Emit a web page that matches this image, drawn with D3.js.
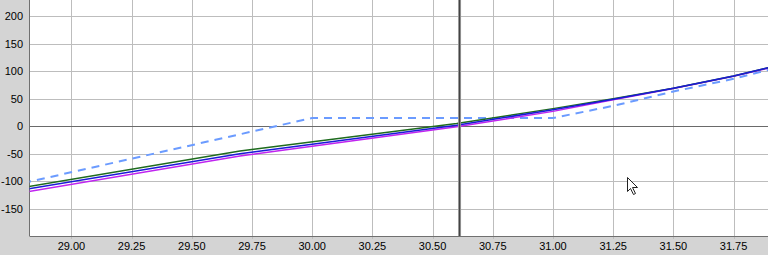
<!DOCTYPE html>
<html>
<head>
<meta charset="utf-8">
<script src="https://cdn.jsdelivr.net/npm/d3@7"></script>
<style>
  html, body { margin: 0; padding: 0; background: #d4d4d4; }
  svg { display: block; }
  .tick-label { font-family: "Liberation Sans", Arial, sans-serif; font-size: 11px; fill: #000; }
</style>
</head>
<body>
<svg id="chart" width="768" height="255"></svg>
<script>
// data
const xTicks = [29.00, 29.25, 29.50, 29.75, 30.00, 30.25, 30.50, 30.75, 31.00, 31.25, 31.50, 31.75];
const yTicks = [-150, -100, -50, 0, 50, 100, 150, 200];

const greenPts = [[28.8, -111], [29.7, -45], [30.6, 5], [31.0, 32], [31.25, 50], [31.5, 69], [31.75, 91], [31.9, 107]];
const bluePts = [[28.8, -115], [29.7, -50], [30.6, 2], [31.0, 30], [31.25, 49], [31.5, 69], [31.75, 91], [31.9, 107]];
const magentaPts = [[28.8, -120], [29.7, -54], [30.6, -1], [31.0, 27], [31.25, 48], [31.5, 68.5], [31.75, 90.5], [31.9, 106]];
const dashedPts = [[28.8, -103], [30.0, 15], [31.0, 15], [31.25, 37], [31.5, 63], [31.75, 86], [31.9, 103]];
const markerX = 30.612;

const W = 768, H = 255;
const left = 29.5, bottom = 236;

const svg = d3.select("#chart");

const x = d3.scaleLinear().domain([28.826, 31.893]).range([left, W]);
const y = d3.scaleLinear().domain([-199, 229]).range([bottom, 0]);

// plot background
svg.append("rect")
  .attr("x", left).attr("y", 0)
  .attr("width", W - left).attr("height", bottom)
  .attr("fill", "#fff");

// grid
const grid = svg.append("g").attr("stroke", "#bdbdbd").attr("stroke-width", 1);
grid.selectAll(".gx").data(xTicks).enter().append("line")
  .attr("x1", d => Math.round(x(d)) + 0.5).attr("x2", d => Math.round(x(d)) + 0.5)
  .attr("y1", 0).attr("y2", bottom + 3);
grid.selectAll(".gy").data(yTicks.filter(d => d !== 0)).enter().append("line")
  .attr("x1", left).attr("x2", W)
  .attr("y1", d => Math.round(y(d)) + 0.5).attr("y2", d => Math.round(y(d)) + 0.5);

// zero line
svg.append("line")
  .attr("x1", left).attr("x2", W)
  .attr("y1", Math.round(y(0)) + 0.5).attr("y2", Math.round(y(0)) + 0.5)
  .attr("stroke", "#6a6a6a").attr("stroke-width", 1);

// axes lines
svg.append("line")
  .attr("x1", left).attr("x2", left).attr("y1", 0).attr("y2", bottom)
  .attr("stroke", "#707070");
svg.append("line")
  .attr("x1", left).attr("x2", W).attr("y1", bottom + 0.5).attr("y2", bottom + 0.5)
  .attr("stroke", "#707070");

// labels
svg.append("g").selectAll("text").data(yTicks).enter().append("text")
  .attr("class", "tick-label")
  .attr("x", 23).attr("y", d => y(d) + 4)
  .attr("text-anchor", "end")
  .text(d => d);

svg.append("g").selectAll("text").data(xTicks).enter().append("text")
  .attr("class", "tick-label")
  .attr("x", d => x(d)).attr("y", 250)
  .attr("text-anchor", "middle")
  .text(d3.format(".2f"));

// series
svg.append("clipPath").attr("id", "plot")
  .append("rect").attr("x", left).attr("y", 0).attr("width", W - left).attr("height", bottom);

const line = d3.line().x(d => x(d[0])).y(d => y(d[1]));
const plot = svg.append("g").attr("clip-path", "url(#plot)");

plot.append("path").datum(dashedPts)
  .attr("d", line).attr("fill", "none")
  .attr("stroke", "#6b9bff").attr("stroke-width", 2)
  .attr("stroke-dasharray", "8,6");

plot.append("path").datum(magentaPts)
  .attr("d", line).attr("fill", "none")
  .attr("stroke", "#c024f0").attr("stroke-width", 1.5);
plot.append("path").datum(greenPts)
  .attr("d", line).attr("fill", "none")
  .attr("stroke", "#1e6b1e").attr("stroke-width", 1.5);
plot.append("path").datum(bluePts)
  .attr("d", line).attr("fill", "none")
  .attr("stroke", "#1a1ad8").attr("stroke-width", 1.5);

// vertical marker
plot.append("line")
  .attr("x1", x(markerX)).attr("x2", x(markerX)).attr("y1", 0).attr("y2", bottom)
  .attr("stroke", "#9a9a9a").attr("stroke-width", 3);
plot.append("line")
  .attr("x1", x(markerX)).attr("x2", x(markerX)).attr("y1", 0).attr("y2", bottom)
  .attr("stroke", "#444").attr("stroke-width", 1.2);

// mouse pointer
svg.append("path")
  .attr("transform", "translate(627.5,177.5)")
  .attr("d", "M0,0 L0,14 L3,11 L6,17 L8,16 L5,10 L10,10 Z")
  .attr("fill", "#fff").attr("stroke", "#222").attr("stroke-width", 1);
</script>
</body>
</html>
